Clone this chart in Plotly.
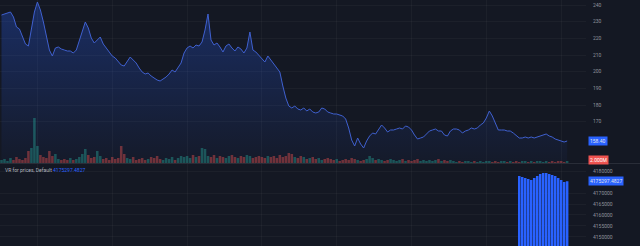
import plotly.graph_objects as go

# ---------------- data ----------------
price = [
    234.0, 234.6, 235.2, 235.8, 232.8, 226.8, 225.6, 221.4, 216.6, 215.4,
    225.0, 235.8, 241.8, 237.0, 229.8, 222.0, 213.0, 209.4, 214.2, 214.8,
    213.6, 213.0, 212.4, 212.4, 211.2, 213.0, 219.0, 225.0, 229.8, 226.2,
    220.2, 217.2, 219.0, 220.8, 216.6, 214.2, 211.2, 209.4, 208.2, 205.8,
    204.0, 203.4, 205.8, 208.8, 207.0, 205.2, 202.2, 199.8, 198.6, 199.2,
    197.4, 196.2, 195.0, 194.4, 195.6, 196.8, 198.6, 201.0, 199.8, 202.2,
    205.2, 211.2, 214.2, 215.4, 214.2, 216.0, 215.4, 217.8, 225.0, 234.6,
    219.0, 216.0, 217.2, 214.8, 211.8, 215.4, 216.6, 214.2, 212.4, 214.8,
    213.6, 211.2, 214.2, 223.8, 213.0, 211.8, 210.0, 207.6, 205.8, 209.4,
    207.0, 204.6, 202.8, 199.8, 191.4, 184.2, 179.4, 178.2, 179.4, 177.6,
    177.0, 178.2, 176.4, 177.6, 175.8, 175.2, 175.8, 178.2, 177.6, 175.8,
    175.2, 174.6, 174.6, 174.0, 173.4, 171.6, 166.2, 159.0, 155.4, 160.2,
    156.6, 154.2, 158.4, 161.4, 163.2, 162.6, 165.6, 168.0, 166.2, 163.8,
    165.0, 165.0, 165.6, 166.2, 165.6, 167.4, 166.8, 165.0, 162.0, 159.6,
    160.2, 160.8, 162.6, 164.4, 165.0, 165.6, 164.4, 164.4, 162.0, 161.4,
    164.4, 165.6, 165.6, 165.0, 163.2, 164.4, 165.0, 166.2, 165.6, 166.2,
    168.0, 169.2, 172.2, 176.4, 173.4, 168.6, 165.0, 165.0, 165.0, 164.4,
    164.4, 163.2, 161.4, 160.2, 160.2, 160.8, 160.2, 160.8, 160.2, 160.8,
    161.4, 162.0, 162.6, 161.4, 160.8, 159.6, 159.0, 158.4, 157.8, 158.4,
]

volume_m = [
    3, 4, 2, 5, 3, 6, 4, 3, 5,
    12, 15, 45, 17, 8, 6, 5, 12, 7, 9, 4, 3,
    4, 3, 5, 3, 4, 6,
    9, 14, 8, 5, 6, 12, 7,
    4, 5, 3, 6, 4, 5,
    17, 9,
    5, 4, 6, 3, 4, 5, 3, 4,
    6, 5, 7, 4, 3, 5,
    4, 6, 3, 5,
    7, 6, 7, 5, 8, 6, 7,
    15, 14,
    7, 6, 8, 5, 7, 6, 5, 7, 8, 6, 5, 7, 6, 8, 7, 5, 6, 7, 6, 5, 7,
    6, 7, 5, 8, 6, 7, 10, 9,
    6, 5, 7, 6, 4, 5, 6, 4, 5, 3, 4, 5, 4,
    3, 4, 2, 3, 4, 3, 5, 4, 3, 2, 3, 4, 7, 5, 3, 4, 3, 2, 3, 4,
    3, 2, 3, 4, 2, 3, 2, 3, 4, 2, 3, 2, 3, 2, 3, 4, 2, 3, 2, 3,
    2, 1, 2, 1, 2, 2, 1, 2, 1, 2, 1, 2, 2, 1, 2, 1, 2, 2, 1, 2,
    1, 2, 1, 2, 2, 1, 2, 1, 2, 2, 1, 2, 1, 2, 1, 2, 2, 1, 2,
]

vr_start = 173
vr_values = [
    4177727, 4177273, 4176818, 4176364, 4175909, 4176818, 4177727, 4178636,
    4179091, 4179091, 4178636, 4178182, 4177727, 4176818, 4175909, 4175000,
    4175297.4827,
]

price_ticks = [240, 230, 220, 210, 200, 190, 180, 170]
vr_ticks = [4180000, 4170000, 4165000, 4160000, 4155000, 4150000]

indicator_title = "VR for prices, Default"
# ---------------------------------------

n = len(price)
idx = list(range(n))
vol = (volume_m + [1] * n)[:n]
vol_colors = []
for i in range(n):
    up = i == 0 or price[i] >= price[i - 1]
    vol_colors.append("rgba(38,166,154,0.42)" if up else "rgba(239,83,80,0.42)")

vr_x = list(range(vr_start, vr_start + len(vr_values)))

BG = "#141823"
GRID = "rgba(255,255,255,0.035)"
TXT = "#8f929b"
BLUE = "#2962ff"

fig = go.Figure()

fig.add_trace(go.Bar(
    x=idx, y=vol, marker=dict(color=vol_colors, line=dict(width=0)),
    xaxis="x", yaxis="y3", showlegend=False, hoverinfo="skip",
))

fig.add_trace(go.Scatter(
    x=idx, y=price, mode="lines",
    line=dict(color="#3f60cf", width=1),
    fill="tozeroy",
    fillgradient=dict(
        type="vertical",
        colorscale=[[0, "rgba(41,98,255,0.03)"], [1, "rgba(41,98,255,0.30)"]],
        start=145.2, stop=243,
    ),
    xaxis="x", yaxis="y", showlegend=False,
))

fig.add_trace(go.Bar(
    x=vr_x, y=vr_values, marker=dict(color=BLUE, line=dict(width=0)),
    xaxis="x", yaxis="y2", showlegend=False,
))

fig.update_layout(
    width=640, height=246,
    margin=dict(l=0, r=54, t=0, b=0),
    paper_bgcolor=BG, plot_bgcolor=BG,
    bargap=0.15,
    font=dict(family="Roboto", color=TXT, size=5),
    xaxis=dict(
        range=[-0.5, 195.3], showticklabels=False, ticks="",
        showgrid=True, gridcolor=GRID, dtick=25, tick0=12,
        zeroline=False, anchor="y2",
    ),
    yaxis=dict(
        domain=[0.3374, 1], range=[145.2, 243], side="right",
        tickvals=price_ticks, ticktext=[str(t) for t in price_ticks],
        ticks="", ticklabelstandoff=6,
        showgrid=True, gridcolor=GRID, zeroline=False,
        tickfont=dict(size=5, color=TXT),
    ),
    yaxis3=dict(
        overlaying="y", range=[0, 163], visible=False,
    ),
    yaxis2=dict(
        domain=[0, 0.3333], range=[4145909, 4183182], side="right",
        tickvals=vr_ticks, ticktext=[str(t) for t in vr_ticks],
        ticks="", ticklabelstandoff=6,
        showgrid=True, gridcolor=GRID, zeroline=False,
        tickfont=dict(size=5, color=TXT),
    ),
)

# pane separator
fig.add_shape(type="line", xref="paper", yref="paper", x0=0, x1=1.1,
              y0=0.3354, y1=0.3354, line=dict(color="#2a2e39", width=1))

# last price label
fig.add_annotation(xref="paper", yref="y", x=1, y=price[-1], xanchor="left",
                   xshift=2, text=f"{price[-1]:.2f}", showarrow=False,
                   bgcolor=BLUE, font=dict(size=5, color="#e0e3eb"),
                   borderpad=1)
# last volume label
fig.add_annotation(xref="paper", yref="y3", x=1, y=vol[-1] + 1.5, xanchor="left",
                   xshift=2, text=f"{vol[-1]:.3f}M", showarrow=False,
                   bgcolor="#ef5350", font=dict(size=5, color="#ffffff"),
                   borderpad=1)
# last indicator label
fig.add_annotation(xref="paper", yref="y2", x=1, y=vr_values[-1], xanchor="left",
                   xshift=2, text=f"{vr_values[-1]:.4f}", showarrow=False,
                   bgcolor=BLUE, font=dict(size=5, color="#e0e3eb"),
                   borderpad=1)
# indicator title
fig.add_annotation(xref="paper", yref="y2 domain", x=0, y=1, xanchor="left",
                   yanchor="top", xshift=3, yshift=-1, showarrow=False,
                   text=f"{indicator_title} <span style='color:{BLUE}'>{vr_values[-1]:.4f}</span>",
                   font=dict(size=5, color="#b2b5be"))

fig.write_html("out.html")
